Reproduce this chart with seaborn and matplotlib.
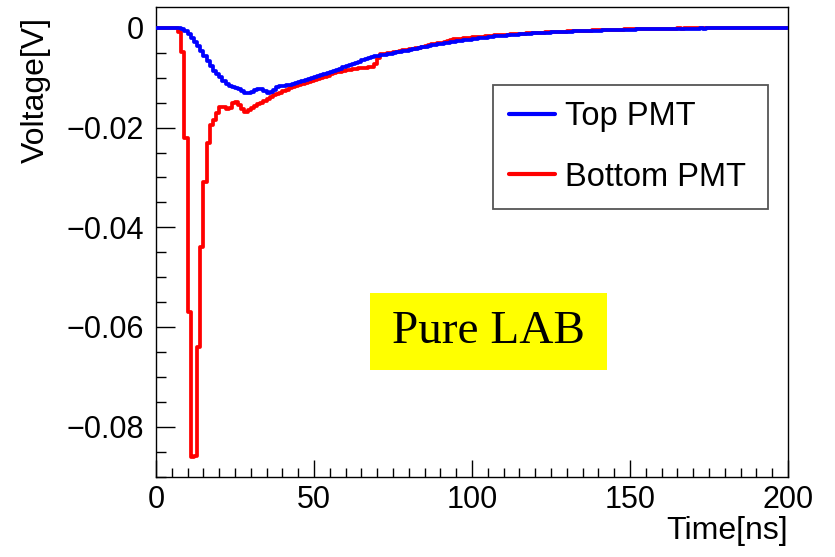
import numpy as np
import pandas as pd
import matplotlib
matplotlib.use("Agg")
import matplotlib.pyplot as plt
from matplotlib.patches import Rectangle
from matplotlib.ticker import MultipleLocator, FixedLocator, FixedFormatter
import seaborn as sns

# ---------------- data (1 ns bins, 0-200 ns) ----------------
BIN_WIDTH_NS = 1.0
TOP_PMT = [
    0, 0, 0, 0, 0, 0, 0, 0, -0.0002, -0.0006,
    -0.0012, -0.0020, -0.0028, -0.0036, -0.0046, -0.0056, -0.0066, -0.0076, -0.0086, -0.0093,
    -0.0099, -0.0106, -0.0112, -0.0116, -0.0118, -0.0120, -0.0123, -0.0126, -0.0130, -0.0131,
    -0.0128, -0.0124, -0.0122, -0.0123, -0.0127, -0.0130, -0.0129, -0.0124, -0.0118, -0.0117,
    -0.0116, -0.0115, -0.0114, -0.0113, -0.0111, -0.0109, -0.0106, -0.0104, -0.0102, -0.0100,
    -0.0098, -0.0096, -0.0094, -0.0092, -0.0090, -0.0088, -0.0086, -0.0084, -0.0082, -0.0079,
    -0.0077, -0.0075, -0.0072, -0.0070, -0.0068, -0.0065, -0.0062, -0.0060, -0.0058, -0.0057,
    -0.0056, -0.0055, -0.0054, -0.0053, -0.0052, -0.0050, -0.0049, -0.0048, -0.0047, -0.0046,
    -0.0044, -0.0043, -0.0042, -0.0040, -0.0039, -0.0038, -0.0036, -0.0035, -0.0034, -0.0033,
    -0.0032, -0.0031, -0.0030, -0.0029, -0.0028, -0.0027, -0.0026, -0.0025, -0.0024, -0.0024,
    -0.0023, -0.0022, -0.0021, -0.0021, -0.0020, -0.0019, -0.0018, -0.0017, -0.0017, -0.0016,
    -0.0016, -0.0015, -0.0015, -0.0014, -0.0014, -0.0013, -0.0013, -0.0012, -0.0012, -0.0011,
    -0.0011, -0.0011, -0.0010, -0.0010, -0.0010, -0.0009, -0.0009, -0.0009, -0.0008, -0.0008,
    -0.0008, -0.0008, -0.0007, -0.0007, -0.0007, -0.0007, -0.0006, -0.0006, -0.0006, -0.0006,
    -0.0006, -0.0005, -0.0005, -0.0005, -0.0005, -0.0005, -0.0004, -0.0004, -0.0004, -0.0004,
    -0.0004, -0.0004, -0.0003, -0.0003, -0.0003, -0.0003, -0.0003, -0.0003, -0.0003, -0.0002,
    -0.0003, -0.0002, -0.0002, -0.0002, -0.0002, -0.0002, -0.0002, -0.0002, -0.0002, -0.0002,
    -0.0002, -0.0002, -0.0001, -0.0002, -0.0001, -0.0001, -0.0001, -0.0001, -0.0001, -0.0001,
    -0.0001, -0.0001, -0.0001, -0.0001, -0.0001, -0.0001, -0.0001, -0.0001, -0.0001, -0.0001,
    -0.0001, -0.0001, 0.0, -0.0001, 0.0, 0.0, 0.0, -0.0001, 0.0, 0.0,
]
BOTTOM_PMT = [
    0, 0, 0, 0, 0, 0, 0, -0.0008, -0.0048, -0.0220,
    -0.0570, -0.0860, -0.0858, -0.0640, -0.0440, -0.0310, -0.0230, -0.0195, -0.0185, -0.0170,
    -0.0158, -0.0158, -0.0162, -0.0160, -0.0150, -0.0148, -0.0155, -0.0162, -0.0168, -0.0165,
    -0.0160, -0.0156, -0.0153, -0.0150, -0.0146, -0.0142, -0.0138, -0.0135, -0.0133, -0.0130,
    -0.0127, -0.0124, -0.0121, -0.0118, -0.0116, -0.0114, -0.0112, -0.0110, -0.0108, -0.0106,
    -0.0104, -0.0102, -0.0100, -0.0098, -0.0096, -0.0093, -0.0091, -0.0089, -0.0088, -0.0086,
    -0.0085, -0.0084, -0.0083, -0.0082, -0.0081, -0.0081, -0.0080, -0.0079, -0.0078, -0.0072,
    -0.0060, -0.0053, -0.0052, -0.0051, -0.0050, -0.0049, -0.0048, -0.0046, -0.0045, -0.0044,
    -0.0043, -0.0042, -0.0041, -0.0040, -0.0038, -0.0036, -0.0034, -0.0033, -0.0032, -0.0031,
    -0.0030, -0.0029, -0.0026, -0.0024, -0.0023, -0.0022, -0.0022, -0.0021, -0.0020, -0.0020,
    -0.0019, -0.0019, -0.0018, -0.0018, -0.0017, -0.0017, -0.0016, -0.0015, -0.0015, -0.0014,
    -0.0014, -0.0014, -0.0013, -0.0013, -0.0013, -0.0012, -0.0012, -0.0011, -0.0011, -0.0011,
    -0.0010, -0.0010, -0.0010, -0.0009, -0.0009, -0.0009, -0.0008, -0.0008, -0.0008, -0.0008,
    -0.0007, -0.0007, -0.0007, -0.0007, -0.0006, -0.0006, -0.0006, -0.0006, -0.0005, -0.0005,
    -0.0005, -0.0005, -0.0005, -0.0004, -0.0004, -0.0004, -0.0004, -0.0004, -0.0003, -0.0003,
    -0.0003, -0.0003, -0.0003, -0.0003, -0.0003, -0.0002, -0.0003, -0.0002, -0.0002, -0.0002,
    -0.0002, -0.0002, -0.0002, -0.0002, -0.0002, -0.0001, -0.0002, -0.0001, -0.0001, -0.0001,
    -0.0001, -0.0001, -0.0001, -0.0001, -0.0001, -0.0001, -0.0001, -0.0001, -0.0001, -0.0001,
    -0.0001, -0.0001, -0.0001, -0.0001, -0.0001, -0.0001, 0.0, -0.0001, -0.0001, 0.0,
    0.0, -0.0001, 0.0, 0.0, -0.0001, 0.0, 0.0, 0.0, 0.0, 0.0,
]
SERIES_LABELS = ["Top PMT", "Bottom PMT"]
SERIES_COLORS = ["#0000ff", "#ff0000"]
Y_TICKS = [-0.08, -0.06, -0.04, -0.02, 0.0]
Y_TICK_LABELS = ["\u22120.08", "\u22120.06", "\u22120.04", "\u22120.02", "0"]
X_TICKS = [0, 50, 100, 150, 200]
X_LABEL = "Time[ns]"
Y_LABEL = "Voltage[V]"
ANNOTATION = "Pure LAB"

# ---------------- build tidy frame (bin edges + closing edge) ----------------
n = len(TOP_PMT)
edges = np.arange(n + 1) * BIN_WIDTH_NS
frames = []
for lab, vals in zip(SERIES_LABELS, [TOP_PMT, BOTTOM_PMT]):
    frames.append(pd.DataFrame({"t": edges, "v": list(vals) + [vals[-1]], "series": lab}))
df = pd.concat(frames, ignore_index=True)

# ---------------- style ----------------
sns.set_theme(style="white")
plt.rcParams["font.family"] = ["Liberation Sans", "DejaVu Sans"]
plt.rcParams["axes.unicode_minus"] = True
plt.rcParams["text.color"] = "black"
plt.rcParams["axes.labelcolor"] = "black"
plt.rcParams["xtick.color"] = "black"
plt.rcParams["ytick.color"] = "black"

W, H = 835, 557
fig = plt.figure(figsize=(W / 100, H / 100), dpi=100)
ax = fig.add_axes([156 / W, 1 - 477 / H, (788 - 156) / W, (477 - 7) / H])

color_map = dict(zip(SERIES_LABELS, SERIES_COLORS))
# draw red first, then blue on top
for lab, z in [("Bottom PMT", 2), ("Top PMT", 3)]:
    sub = df[df["series"] == lab]
    sns.lineplot(data=sub, x="t", y="v", ax=ax, color=color_map[lab], linewidth=2.7,
                 drawstyle="steps-post", estimator=None, sort=True, label=lab, zorder=z)

ax.set_xlim(0, 200)
ax.set_ylim(-0.0901, 0.0042)

ax.xaxis.set_major_locator(FixedLocator(X_TICKS))
ax.xaxis.set_minor_locator(MultipleLocator(5))
ax.yaxis.set_major_locator(FixedLocator(Y_TICKS))
ax.yaxis.set_major_formatter(FixedFormatter(Y_TICK_LABELS))
ax.yaxis.set_minor_locator(MultipleLocator(0.005))

ax.tick_params(axis="both", which="both", direction="in", top=False, right=False,
               bottom=True, left=True, colors="black", labelcolor="black",
               labelsize=22, width=1.0)
ax.tick_params(axis="x", which="major", length=12, pad=6)
ax.tick_params(axis="x", which="minor", length=6.5)
ax.tick_params(axis="y", which="major", length=14, pad=9)
ax.tick_params(axis="y", which="minor", length=7)

for sp in ax.spines.values():
    sp.set_color("black")
    sp.set_linewidth(1.0)

ax.set_xlabel(X_LABEL, fontsize=23, ha="right", color="black")
ax.xaxis.set_label_coords(1.0, -0.083)
ax.xaxis.label.set_va("top")
ax.set_ylabel(Y_LABEL, fontsize=23, ha="right", color="black")
ax.yaxis.set_label_coords(-0.167, 0.978)

# legend (Top first)
h, l = ax.get_legend_handles_labels()
order = [l.index("Top PMT"), l.index("Bottom PMT")]
leg = ax.legend([h[i] for i in order], [l[i] for i in order],
                loc="upper left", bbox_to_anchor=(0.533, 0.834, 0.435, 0.0),
                mode="expand", fontsize=23.5, frameon=True, fancybox=False,
                borderpad=0.5, labelspacing=0.9, handlelength=1.4,
                handletextpad=0.32, borderaxespad=0.0)
leg.get_frame().set_edgecolor("#555555")
leg.get_frame().set_linewidth(1.3)
leg.get_frame().set_facecolor("white")
leg.get_frame().set_alpha(1.0)
for txt in leg.get_texts():
    txt.set_color("black")
for line in leg.get_lines():
    line.set_linewidth(3.0)

# annotation box
ax.add_patch(Rectangle((0.3386, 0.2277), 0.375, 0.1638, transform=ax.transAxes,
                       facecolor="#ffff00", edgecolor="none", zorder=4))
ax.text(0.5255, 0.3085, ANNOTATION, transform=ax.transAxes, ha="center", va="center",
        fontsize=34, family=["Liberation Serif", "DejaVu Serif"], color="black", zorder=5)

fig.savefig("out.png", dpi=100)
